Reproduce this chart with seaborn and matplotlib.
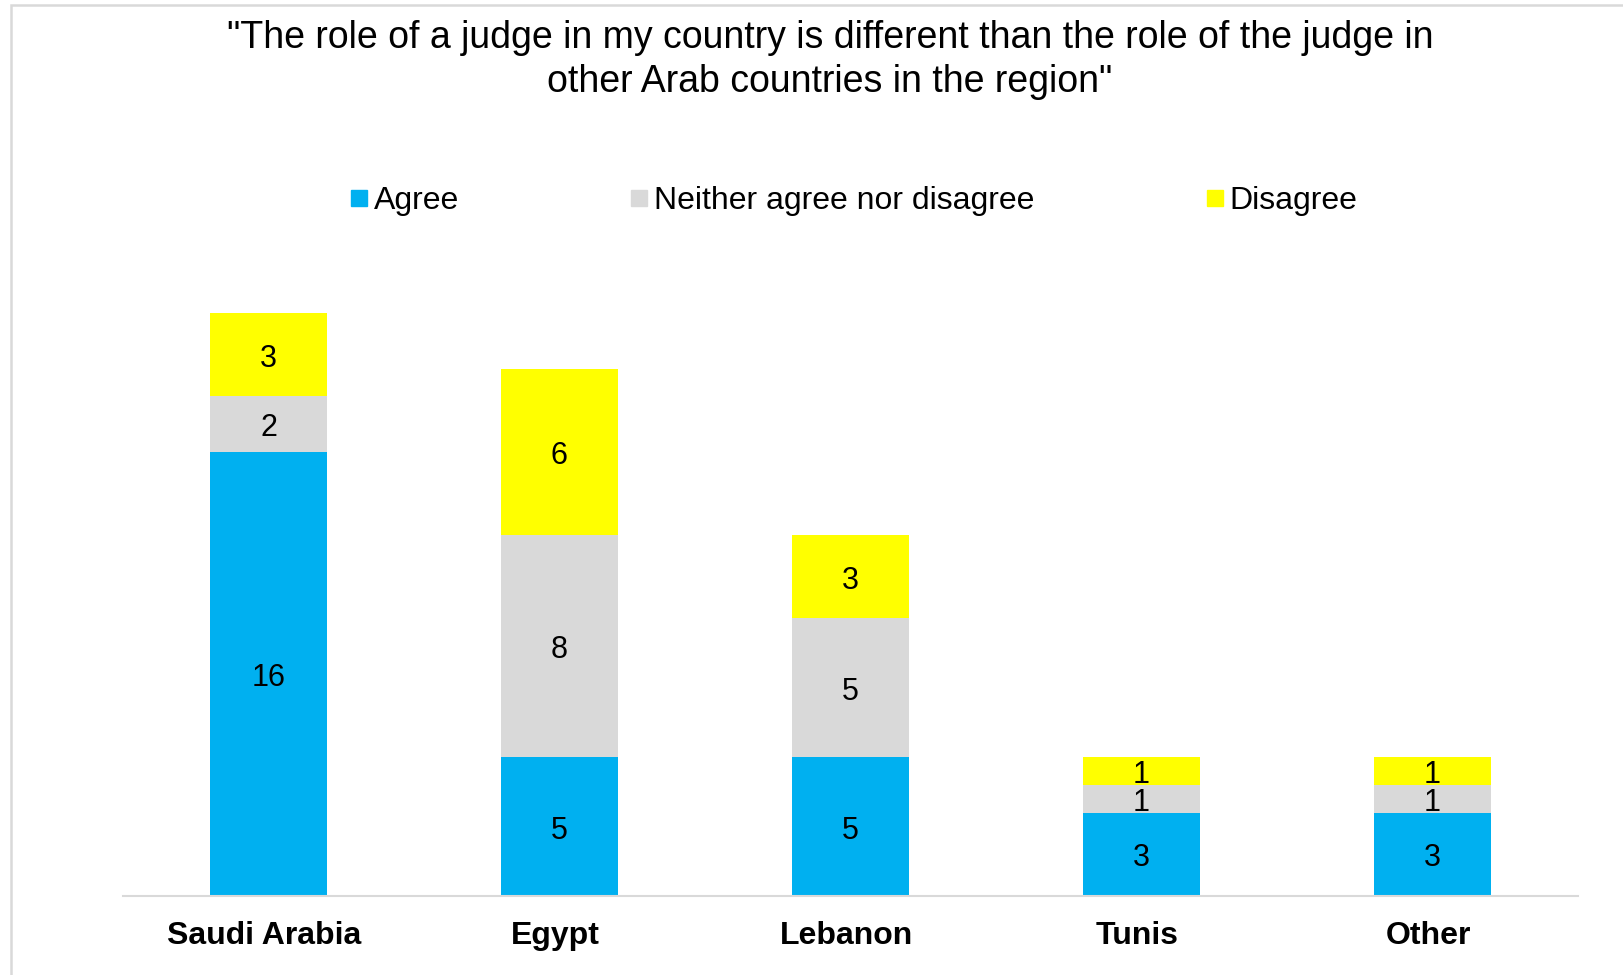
import matplotlib
matplotlib.use("Agg")
import matplotlib.pyplot as plt
import matplotlib.transforms as mtransforms
import seaborn as sns
import numpy as np
import pandas as pd
from matplotlib.lines import Line2D
from matplotlib.patches import Rectangle

countries = ["Saudi Arabia", "Egypt", "Lebanon", "Tunis", "Other"]
agree = [16, 5, 5, 3, 3]
neither = [2, 8, 5, 1, 1]
disagree = [3, 6, 3, 1, 1]
series_names = ["Agree", "Neither agree nor disagree", "Disagree"]
colors = ["#00B0F0", "#D9D9D9", "#FFFF00"]
title = '"The role of a judge in my country is different than the role of the judge in\nother Arab countries in the region"'

sns.set_theme(style="white")
plt.rcParams["font.family"] = ["Liberation Sans", "DejaVu Sans"]
plt.rcParams["text.color"] = "black"

df = pd.DataFrame({"country": countries, "agree": agree,
                   "neither": neither, "disagree": disagree})
df["c1"] = df["agree"]
df["c2"] = df["agree"] + df["neither"]
df["c3"] = df["c2"] + df["disagree"]

fig = plt.figure(figsize=(16.24, 9.75), dpi=100)
ax = fig.add_axes([123/1624, 1 - 896/975, (1578-123)/1624, (896-202)/975])

# draw stacked bars back-to-front using cumulative totals
for col, c in zip(["c3", "c2", "c1"], colors[::-1]):
    sns.barplot(data=df, x="country", y=col, color=c, width=0.402,
                saturation=1, ax=ax, errorbar=None, linewidth=0)

# labels at segment midpoints (slightly lowered, as in the reference)
lab_tr = ax.transData + mtransforms.ScaledTranslation(0, -4/100, fig.dpi_scale_trans)
for i in range(len(countries)):
    segs = [(0, df["c1"][i], agree[i]),
            (df["c1"][i], df["c2"][i], neither[i]),
            (df["c2"][i], df["c3"][i], disagree[i])]
    for lo, hi, v in segs:
        ax.text(i, (lo + hi) / 2, str(v), ha="center", va="center",
                fontsize=22, color="black", transform=lab_tr)

ax.set_xlim(-0.5, 4.5)
ax.set_ylim(0, 25)
ax.set_xlabel("")
ax.set_ylabel("")
ax.set_yticks([])
for s in ["top", "right", "left"]:
    ax.spines[s].set_visible(False)
ax.spines["bottom"].set_color("#D9D9D9")
ax.spines["bottom"].set_linewidth(1.5)
ax.tick_params(axis="x", length=0, pad=18)
shift = mtransforms.ScaledTranslation(-4/100, 0, fig.dpi_scale_trans)
for lab in ax.get_xticklabels():
    lab.set_fontsize(23)
    lab.set_fontweight("bold")
    lab.set_color("black")
    lab.set_transform(lab.get_transform() + shift)

handles = [Line2D([0], [0], marker="s", linestyle="none", markersize=11,
                  markerfacecolor=c, markeredgecolor=c) for c in colors]
leg = fig.legend(handles, series_names, loc="center",
                 bbox_to_anchor=(854/1624, 1 - 201/975),
                 ncol=3, frameon=False, fontsize=23, columnspacing=5.4,
                 handlelength=0.5, handletextpad=0.2, borderpad=0)
for t in leg.get_texts():
    t.set_color("black")

fig.text(830/1624, 1 - 60/975, title, ha="center", va="center",
         fontsize=27, color="black", linespacing=1.27)

fig.patches.append(Rectangle((11/1624, -0.1), 1.2, 1.1 - 4.5/975,
                             transform=fig.transFigure, fill=False,
                             edgecolor="#D9D9D9", linewidth=1.8))

fig.savefig("out.png", dpi=100)
